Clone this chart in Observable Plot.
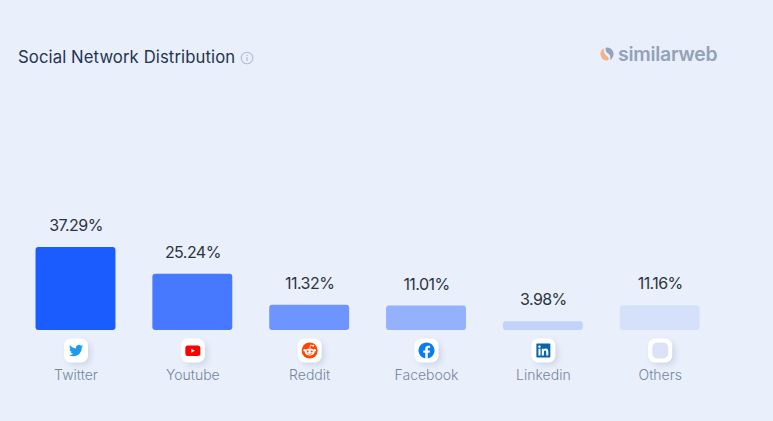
<!DOCTYPE html>
<html>
<head>
<meta charset="utf-8">
<script src="https://cdn.jsdelivr.net/npm/d3@7"></script>
<script src="https://cdn.jsdelivr.net/npm/@observablehq/plot@0.6"></script>
<style>
html,body{margin:0;padding:0;background:#e9effb;width:773px;height:421px;overflow:hidden}
#wrap{position:relative;width:773px;height:421px;font-family:Inter,"Noto Sans",sans-serif}
#title{position:absolute;left:18px;top:46px;font-size:16.7px;line-height:22px;color:#1f3550;font-weight:400;letter-spacing:.1px;white-space:nowrap}
#info{position:absolute;left:240px;top:51px}
#logo{position:absolute;left:600px;top:43px;display:flex;align-items:center;height:22px}
#logo span{font-family:Inter,sans-serif;font-weight:600;font-size:19.4px;color:#93a2b8;margin-left:4px;letter-spacing:-.25px}
#chart g[aria-label="text"] text{letter-spacing:-.55px}
</style>
</head>
<body>
<div id="wrap">
<div id="title">Social Network Distribution</div>
<svg id="info" width="14" height="14" viewBox="0 0 14 14"><circle cx="7" cy="7" r="5.8" fill="none" stroke="#b4bfcf" stroke-width="1.1"/><rect x="6.4" y="6" width="1.2" height="4" fill="#b4bfcf"/><rect x="6.4" y="3.8" width="1.2" height="1.2" fill="#b4bfcf"/></svg>
<div id="logo">
<svg width="14" height="14" viewBox="0 0 14 14"><path d="M4 1.200A6.600 6.600 0 0 0 7 13.600C8.600 13.600 9.400 11 7.500 9.500 5.500 8 3 5 4 1.200Z" fill="#f0b48c"/><path d="M6 .5C4.600 3 6.500 5.500 8.500 6.800 11 8.500 10.800 11.800 9.500 13.100A6.600 6.600 0 0 0 6 .5Z" fill="#93a2b8"/></svg>
<span>similarweb</span>
</div>
<div id="chart"></div>
</div>
<script>
const networks = ["Twitter", "Youtube", "Reddit", "Facebook", "Linkedin", "Others"];
const shares = [37.29, 25.24, 11.32, 11.01, 3.98, 11.16];
const shareLabels = ["37.29%", "25.24%", "11.32%", "11.01%", "3.98%", "11.16%"];
const barColors = ["#1a5cff", "#4679ff", "#6e95ff", "#94b1fd", "#c1d3fb", "#d5e1fa"];

const glyphs = {
  Twitter: `<path transform="translate(13 13) scale(.59)" fill="#1d9bf0" d="M23.953 4.57a10 10 0 01-2.825.775 4.958 4.958 0 002.163-2.723c-.951.555-2.005.959-3.127 1.184a4.92 4.92 0 00-8.384 4.482C7.69 8.095 4.067 6.13 1.64 3.162a4.822 4.822 0 00-.666 2.475c0 1.71.87 3.213 2.188 4.096a4.904 4.904 0 01-2.228-.616v.06a4.923 4.923 0 003.946 4.827 4.996 4.996 0 01-2.212.085 4.936 4.936 0 004.604 3.417 9.867 9.867 0 01-6.102 2.105c-.39 0-.779-.023-1.17-.067a13.995 13.995 0 007.557 2.209c9.053 0 13.998-7.496 13.998-13.985 0-.21 0-.42-.015-.63A9.935 9.935 0 0024 4.59z"/>`,
  Youtube: `<rect x="12.500" y="15" width="15" height="10.500" rx="2.500" fill="#f00"/><path d="M18.500 18.200v4.100l3.400-2.050z" fill="#fff"/>`,
  Reddit: `<circle cx="20" cy="20" r="8" fill="#ff4500"/><ellipse cx="20" cy="21.500" rx="5" ry="3.400" fill="#fff"/><circle cx="15" cy="19.800" r="1.300" fill="#fff"/><circle cx="25" cy="19.800" r="1.300" fill="#fff"/><path d="M20 18l.8-3.400 2.600.6" fill="none" stroke="#fff" stroke-width=".8"/><circle cx="23.600" cy="15.300" r="1" fill="#fff"/><circle cx="18" cy="21" r="1" fill="#ff4500"/><circle cx="22" cy="21" r="1" fill="#ff4500"/><path d="M18 23.200q2 1.200 4 0" fill="none" stroke="#ff4500" stroke-width=".7"/>`,
  Facebook: `<path transform="translate(12 12) scale(.667)" fill="#0a7cf0" d="M24 12.073c0-6.627-5.373-12-12-12s-12 5.373-12 12c0 5.990 4.388 10.954 10.125 11.854v-8.385H7.078v-3.470h3.047V9.430c0-3.007 1.792-4.669 4.533-4.669 1.312 0 2.686.235 2.686.235v2.953H15.830c-1.491 0-1.956.925-1.956 1.874v2.250h3.328l-.532 3.470h-2.796v8.385C19.612 23.027 24 18.062 24 12.073z"/>`,
  Linkedin: `<path transform="translate(13 13) scale(.583)" fill="#0a66a8" d="M20.447 20.452h-3.554v-5.569c0-1.328-.027-3.037-1.852-3.037-1.853 0-2.136 1.445-2.136 2.939v5.667H9.351V9h3.414v1.561h.046c.477-.9 1.637-1.850 3.370-1.850 3.601 0 4.267 2.370 4.267 5.455v6.286zM5.337 7.433c-1.144 0-2.063-.926-2.063-2.065 0-1.138.92-2.063 2.063-2.063 1.140 0 2.064.925 2.064 2.063 0 1.139-.925 2.065-2.064 2.065zm1.782 13.019H3.555V9h3.564v11.452zM22.225 0H1.771C.792 0 0 .774 0 1.729v20.542C0 23.227.792 24 1.771 24h20.451C23.200 24 24 23.227 24 22.271V1.729C24 .774 23.200 0 22.222 0h.003z"/>`,
  Others: `<rect x="12" y="12" width="16" height="16" rx="5" fill="#dce3f6"/>`
};
const iconSrc = name => "data:image/svg+xml," + encodeURIComponent(
  `<svg xmlns="http://www.w3.org/2000/svg" width="40" height="40" viewBox="0 0 40 40">` +
  `<defs><filter id="s" x="-40%" y="-40%" width="180%" height="180%"><feGaussianBlur stdDeviation="2.500"/></filter></defs>` +
  `<rect x="11" y="11" width="24" height="24" rx="8" fill="#bcc7da" opacity=".55" filter="url(#s)"/>` +
  `<rect x="8" y="8" width="24" height="24" rx="7" fill="#fff"/>` + glyphs[name] + `</svg>`);

const rows = networks.map((name, i) => ({name, share: shares[i], label: shareLabels[i], color: barColors[i]}));

const chart = Plot.plot({
  width: 773,
  height: 421,
  marginTop: 0, marginLeft: 0, marginRight: 0, marginBottom: 91,
  style: {background: "transparent", fontFamily: "Inter, 'Noto Sans', sans-serif"},
  x: {type: "band", domain: networks, range: [-1.4, 736.6], padding: 0.316, round: false, axis: null},
  y: {domain: [0, 100], range: [330, 107.4], axis: null},
  marks: [
    Plot.barY(rows, {x: "name", y: "share", fill: "color", rx: 3}),
    Plot.text(rows, {x: "name", y: "share", text: "label", dy: -21.5, fontSize: 16, fill: "#2b3442"}),
    Plot.image(rows, {x: "name", frameAnchor: "bottom", dy: 20, width: 40, height: 40, src: d => iconSrc(d.name)}),
    Plot.axisX({anchor: "bottom", tickSize: 0, tickPadding: 40, fontSize: 14, label: null, fill: "#76859f", fontWeight: 300})
  ]
});
document.getElementById("chart").append(chart);
</script>
</body>
</html>
